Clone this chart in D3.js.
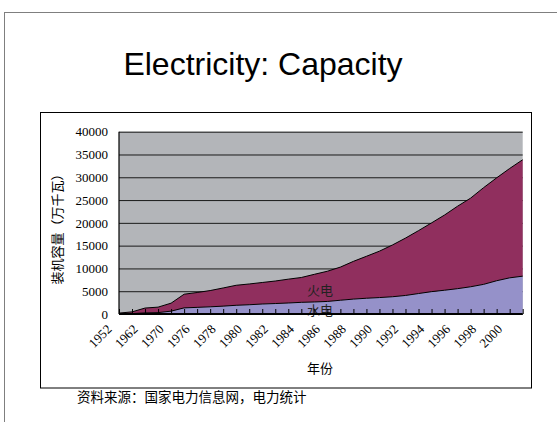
<!DOCTYPE html>
<html><head><meta charset="utf-8">
<script src="https://cdn.jsdelivr.net/npm/d3@7/dist/d3.min.js"></script>
<style>
html,body{margin:0;padding:0;background:#fff;}
svg{display:block;}
</style></head>
<body>
<svg id="chart" width="557" height="422"></svg>
<script>
const years = ["1952","1957","1962","1965","1970","1975","1976","1977","1978","1979","1980","1981","1982","1983","1984","1985","1986","1987","1988","1989","1990","1991","1992","1993","1994","1995","1996","1997","1998","1999","2000","2001"];
const shownLabels = ["1952","1962","1970","1976","1978","1980","1982","1984","1986","1988","1990","1992","1994","1996","1998","2000"];
const hydro = [19,102,238,302,624,1343,1456,1576,1728,1911,2032,2193,2296,2416,2560,2641,2754,3019,3270,3458,3605,3788,4068,4489,4906,5218,5558,5973,6507,7297,7935,8301];
const thermal = [177,362,1066,1206,1753,2998,3259,3569,3984,4391,4555,4720,4940,5228,5452,6064,6628,7271,8280,9206,10184,11359,12585,13802,15084,16504,18096,19451,21222,22580,23997,25548];
const yTicks = [0,5000,10000,15000,20000,25000,30000,35000,40000];
const seriesNames = ["水电","火电"];
const title = "Electricity: Capacity";
const yTitle = "装机容量（万千瓦）";
const xTitle = "年份";
const source = "资料来源：国家电力信息网，电力统计";

const svg = d3.select("#chart");
const L = 119, R = 522.7, T = 131.7, B = 314;
const serif = "'Liberation Serif','Times New Roman',serif";
const cjk = "'Noto Sans CJK SC','Noto Sans CJK JP',sans-serif";

// outer frame
svg.append("rect").attr("x",4.5).attr("y",12.5).attr("width",700).attr("height",600)
  .attr("fill","none").attr("stroke","#7f7f7f").attr("stroke-width",1);
// title
svg.append("text").attr("x",263).attr("y",75).attr("text-anchor","middle")
  .attr("font-family","'Liberation Sans',Arial,sans-serif").attr("font-size",32)
  .attr("fill","#000").text(title);
// chart box
svg.append("rect").attr("x",40.5).attr("y",112.5).attr("width",491).attr("height",275.5)
  .attr("fill","#fff").attr("stroke","#000").attr("stroke-width",1);

const x = d3.scalePoint().domain(years).range([L,R]).padding(0);
const y = d3.scaleLinear().domain([0,40000]).range([B,T]);

// plot bg
svg.append("rect").attr("x",L).attr("y",T).attr("width",R-L).attr("height",B-T).attr("fill","#b3b5b9");

// gridlines
const yAxis = d3.axisLeft(y).tickValues(yTicks).tickSize(-(R-L)).tickFormat(d=>d);
const gy = svg.append("g").attr("transform",`translate(${L},0)`).call(yAxis);
gy.attr("font-family",serif);
gy.select(".domain").remove();
gy.selectAll(".tick line").attr("stroke","#1a1a1a").attr("stroke-width",1);
gy.selectAll(".tick text").attr("x",-11).attr("font-family",serif).attr("font-size",13).attr("fill","#000");

// stacked areas
const rows = years.map((yr,i)=>({year:yr, h:hydro[i], t:thermal[i]}));
const stack = d3.stack().keys(["h","t"]);
const layers = stack(rows);
const colors = ["#9591c9","#902f5e"];
const area = d3.area().x(d=>x(d.data.year)).y0(d=>y(d[0])).y1(d=>y(d[1]));
const line = d3.line().x(d=>x(d.data.year)).y(d=>y(d[1]));
layers.forEach((ly,i)=>{
  svg.append("path").datum(ly).attr("d",area).attr("fill",colors[i]);
});
layers.forEach((ly,i)=>{
  svg.append("path").datum(ly).attr("d",line).attr("fill","none").attr("stroke","#000").attr("stroke-width",1);
});

// series labels
svg.append("text").attr("x",320).attr("y",295).attr("text-anchor","middle")
  .attr("font-family",cjk).attr("font-size",13).attr("fill","#222").text(seriesNames[1]);
svg.append("text").attr("x",320).attr("y",315).attr("text-anchor","middle")
  .attr("font-family",cjk).attr("font-size",13).attr("fill","#222").text(seriesNames[0]);

// x axis with inward ticks
const xAxis = d3.axisBottom(x).tickSize(-5).tickFormat(d=>shownLabels.includes(d)?d:"");
const gx = svg.append("g").attr("transform",`translate(0,${B})`).call(xAxis);
gx.attr("font-family",serif);
gx.select(".domain").remove();
gx.selectAll(".tick line").attr("stroke","#000").attr("stroke-width",1);
gx.selectAll(".tick text")
  .attr("font-family",serif).attr("font-size",13).attr("fill","#000")
  .attr("text-anchor","end").attr("dy",0).attr("y",0)
  .attr("transform","translate(-7,16) rotate(-45)");

// axis lines
svg.append("line").attr("x1",L).attr("x2",L).attr("y1",T).attr("y2",B).attr("stroke","#000").attr("stroke-width",1.2);
svg.append("line").attr("x1",L).attr("x2",R).attr("y1",B).attr("y2",B).attr("stroke","#000").attr("stroke-width",1.8);

// axis titles
svg.append("text").attr("transform","translate(62,226) rotate(-90)").attr("text-anchor","middle")
  .attr("font-family",cjk).attr("font-size",13).attr("fill","#000").text(yTitle);
svg.append("text").attr("x",320).attr("y",373).attr("text-anchor","middle")
  .attr("font-family",cjk).attr("font-size",13).attr("fill","#000").text(xTitle);

// source
svg.append("text").attr("x",77).attr("y",402)
  .attr("font-family",cjk).attr("font-size",13.5).attr("fill","#000").text(source);
</script>
</body></html>
